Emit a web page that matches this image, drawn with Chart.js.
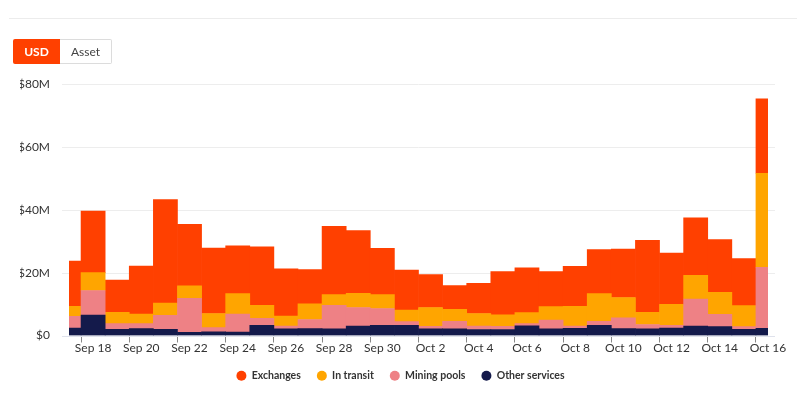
<!DOCTYPE html>
<html>
<head>
<meta charset="utf-8">
<script src="https://cdn.jsdelivr.net/npm/chart.js@4.4.0/dist/chart.umd.min.js"></script>
<style>
  html, body { margin: 0; padding: 0; background: #fff; width: 797px; height: 396px; overflow: hidden; font-family: Lato, sans-serif; }
  #topline { position: absolute; left: 9px; right: 0; top: 18px; height: 1px; background: #ececec; }
  #wrap { position: absolute; left: 0; top: 0; width: 797px; height: 396px; }
  .btns { position: absolute; left: 13px; top: 39px; display: flex; z-index: 2; }
  .btn { height: 25px; box-sizing: border-box; font-size: 12px; line-height: 25px; text-align: center; }
  .usd { width: 47px; background: #ff4000; color: #fff; border-radius: 2px 0 0 2px; font-weight: bold; }
  .asset { width: 52px; border: 1px solid #dcdcdc; border-left: none; color: #444; line-height: 23px; border-radius: 0 2px 2px 0; }
</style>
</head>
<body>
<div id="topline"></div>
<div class="btns"><div class="btn usd">USD</div><div class="btn asset">Asset</div></div>
<div id="wrap"><canvas id="c" width="797" height="396"></canvas></div>
<script>
const dates = ["Sep 17","Sep 18","Sep 19","Sep 20","Sep 21","Sep 22","Sep 23","Sep 24","Sep 25","Sep 26","Sep 27","Sep 28","Sep 29","Sep 30","Oct 1","Oct 2","Oct 3","Oct 4","Oct 5","Oct 6","Oct 7","Oct 8","Oct 9","Oct 10","Oct 11","Oct 12","Oct 13","Oct 14","Oct 15","Oct 16"];
// values in $M
const otherServices = [2.4,6.5,2.0,2.2,2.0,1.0,1.2,1.1,3.2,2.1,2.2,2.1,3.0,3.2,3.2,2.1,2.1,1.9,1.9,3.1,2.1,2.3,3.2,2.2,2.1,2.4,3.0,2.8,2.0,2.3];
const miningPools   = [3.7,7.8,1.8,1.6,4.4,10.8,1.3,5.7,2.3,0.9,2.9,7.5,5.9,5.4,1.2,0.8,2.4,1.1,1.0,0.7,2.8,0.7,1.3,3.4,1.4,0.8,8.6,3.9,0.8,19.4];
const inTransit     = [3.2,5.7,3.6,3.0,3.9,4.0,4.5,6.5,4.1,3.2,5.0,3.4,4.5,4.4,3.7,6.0,3.8,4.0,3.7,3.5,4.3,6.3,8.8,6.5,3.9,6.7,7.5,7.0,6.7,29.9];
const exchanges     = [14.4,19.6,10.2,15.3,32.9,19.6,20.8,15.2,18.6,15.0,10.9,21.7,20.0,14.7,12.7,10.5,7.6,9.6,13.7,14.2,11.1,12.7,14.0,15.4,22.9,16.3,18.3,16.8,15.0,23.7];
const yTicks = [0,20,40,60,80];

const gridPlugin = {
  id: 'extGrid',
  beforeDatasetsDraw(chart) {
    const {ctx, chartArea} = chart;
    const y = chart.scales.y;
    ctx.save();
    ctx.lineWidth = 1;
    yTicks.forEach(v => {
      const py = Math.round(y.getPixelForValue(v)) + 0.5;
      ctx.strokeStyle = v === 0 ? '#dfe2ec' : '#ededed';
      ctx.beginPath();
      ctx.moveTo(chartArea.left - 7, py);
      ctx.lineTo(chartArea.right + 7, py);
      ctx.stroke();
    });
    ctx.restore();
  }
};

const mk = (label, data, color) => ({label, data, backgroundColor: color, borderWidth: 0, barPercentage: 1, categoryPercentage: 1});

new Chart(document.getElementById('c'), {
  type: 'bar',
  data: {
    labels: dates,
    datasets: [
      mk('Other services', otherServices, '#141a4b'),
      mk('Mining pools', miningPools, '#ee8185'),
      mk('In transit', inTransit, '#ffa500'),
      mk('Exchanges', exchanges, '#ff4000')
    ]
  },
  options: {
    responsive: false,
    animation: false,
    layout: { padding: { left: 20, right: 16, top: 84, bottom: 5 } },
    plugins: {
      tooltip: { enabled: false },
      legend: {
        position: 'bottom',
        reverse: true,
        labels: {
          usePointStyle: true, pointStyle: 'circle', boxHeight: 7, pointStyleWidth: 10,
          padding: 16, color: '#333',
          font: { family: 'Lato', size: 10.5, weight: 'bold' }
        }
      }
    },
    scales: {
      x: {
        stacked: true,
        offset: false,
        border: { display: false },
        afterFit: (s) => { s.height = 19; },
        grid: {
          drawOnChartArea: false, drawTicks: true, tickLength: 7,
          tickColor: (c) => (c.index % 2 === 1 ? '#888' : 'rgba(0,0,0,0)')
        },
        ticks: {
          autoSkip: false, maxRotation: 0, padding: -2, color: '#333',
          font: { family: 'Lato', size: 12 },
          callback: function(v, i) { return i % 2 === 1 ? dates[i] : ''; }
        }
      },
      y: {
        stacked: true,
        min: 0, max: 80,
        border: { display: false },
        grid: { display: false, drawTicks: false },
        afterFit: (s) => { s.width = 49; },
        ticks: {
          stepSize: 20, padding: 19, color: '#333',
          font: { family: 'Lato', size: 12 },
          callback: (v) => (v === 0 ? '$0' : '$' + v + 'M')
        }
      },
      yRight: {
        position: 'right',
        min: 0, max: 80,
        border: { display: false },
        grid: { display: false, drawTicks: false },
        ticks: { display: false },
        afterFit: (s) => { s.width = 13; }
      }
    }
  },
  plugins: [gridPlugin]
});
</script>
</body>
</html>
